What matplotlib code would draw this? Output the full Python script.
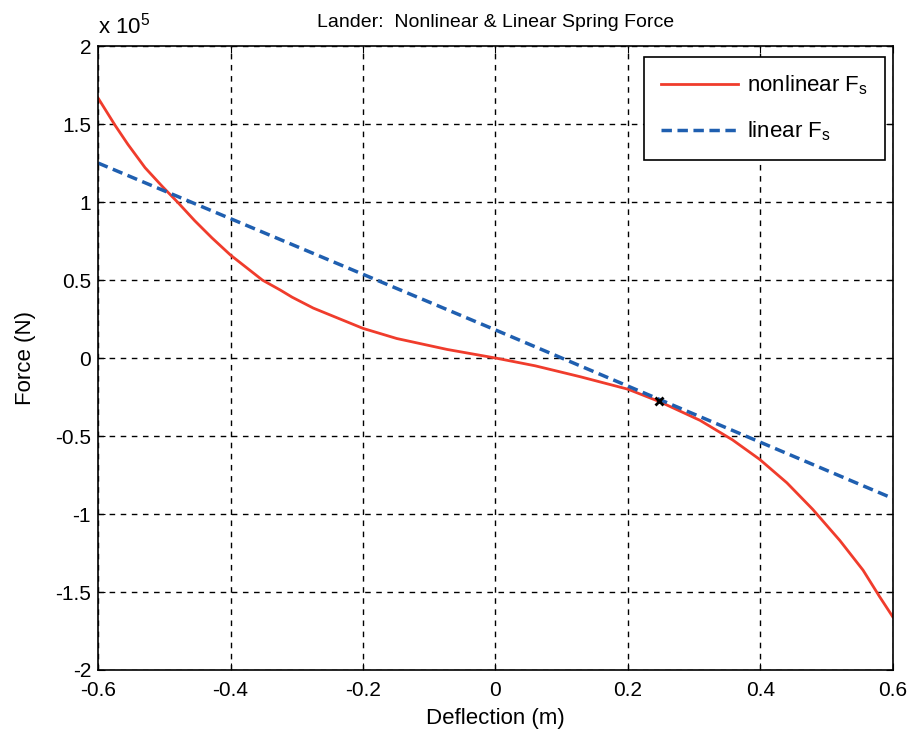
import matplotlib.pyplot as plt
import numpy as np

plt.rcParams['font.family'] = ['Liberation Sans', 'DejaVu Sans']

# force values in units of 1e5 N
x_nl = [-0.600, -0.574, -0.555, -0.529, -0.503, -0.479, -0.454, -0.428, -0.400,
        -0.352, -0.325, -0.307, -0.275, -0.200, -0.149, -0.073, 0.000,
        0.060, 0.128, 0.200, 0.248, 0.309, 0.358, 0.399, 0.440, 0.479,
        0.520, 0.555, 0.580, 0.600]
f_nl = [1.667, 1.49, 1.37, 1.22, 1.10, 0.995, 0.88, 0.77, 0.66,
        0.50, 0.436, 0.39, 0.32, 0.19, 0.125, 0.055, 0.0,
        -0.05, -0.12, -0.20, -0.28, -0.40, -0.525, -0.65, -0.80, -0.97,
        -1.17, -1.36, -1.53, -1.66]

x_lin = [-0.6, 0.0, 0.6]
f_lin = [1.25, 0.18, -0.90]

x_eq = [0.247]
f_eq = [-0.276]

xticks = [-0.6, -0.4, -0.2, 0, 0.2, 0.4, 0.6]
yticks = [-2, -1.5, -1, -0.5, 0, 0.5, 1, 1.5, 2]

fig = plt.figure(figsize=(9.12, 7.4), dpi=100)
ax = fig.add_axes([0.1075, 0.0946, 0.8715, 0.8432])

ax.plot(x_nl, f_nl, color='#f03c2c', lw=2, label='nonlinear F$_\\mathregular{s}$')
ax.plot(x_lin, f_lin, color='#1f5fb0', lw=2.5, ls=(0, (3, 1.6)), label='linear F$_\\mathregular{s}$')
ax.plot(x_eq, f_eq, 'x', color='black', ms=6, mew=2)

ax.set_xlim(-0.6, 0.6)
ax.set_ylim(-2, 2)
ax.set_xticks(xticks)
ax.set_xticklabels([f'{t:g}' for t in xticks])
ax.set_yticks(yticks)
ax.set_yticklabels([f'{t:g}' for t in yticks])
ax.tick_params(direction='in', top=True, right=True, labelsize=15, length=5, pad=5)
ax.tick_params(axis='x', pad=8)
ax.grid(True, color='black', ls=(0, (4, 4)), lw=1)
for s in ax.spines.values():
    s.set_linewidth(1.2)

ax.set_title('Lander:  Nonlinear & Linear Spring Force', fontsize=14, pad=14)
ax.set_xlabel('Deflection (m)', fontsize=16, labelpad=6)
ax.set_ylabel('Force (N)', fontsize=16, labelpad=14)
fig.text(0.107, 0.948, 'x 10$^\\mathregular{5}$', fontsize=16, ha='left', va='bottom')

leg = ax.legend(loc='upper right', bbox_to_anchor=(0.970, 0.923), bbox_transform=fig.transFigure,
                fontsize=16, handlelength=3.5, handletextpad=0.4, fancybox=False,
                edgecolor='black', framealpha=1, labelspacing=1.0, borderaxespad=0,
                borderpad=0.75)
leg.get_frame().set_linewidth(1.2)

fig.savefig('out.png', dpi=100)
